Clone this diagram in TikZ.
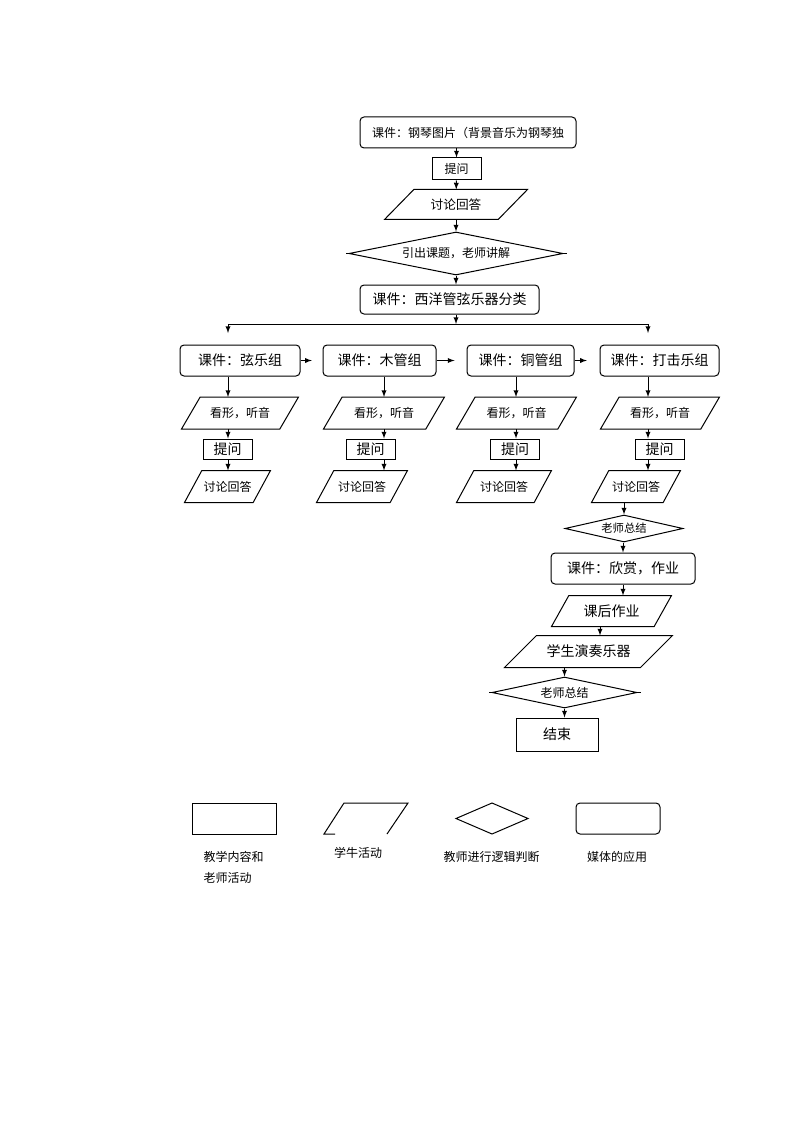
\documentclass[tikz,border=0pt]{standalone}
\usepackage{fontspec}
\setmainfont{Noto Sans CJK SC}
\usetikzlibrary{shapes,arrows,positioning}

\begin{document}
\begin{tikzpicture}[x=0.75pt,y=-0.75pt,>=latex,line width=0.75pt]
            \useasboundingbox (0,0) rectangle (794,1123);
            \tikzstyle{fa}=[font=\fontsize{8.5pt}{10pt}\selectfont]
            \tikzstyle{fb}=[font=\fontsize{9pt}{10pt}\selectfont]
            \tikzstyle{fc}=[font=\fontsize{10.5pt}{12pt}\selectfont]

            \tikzstyle{every edge}=[draw]

            \tikzstyle{T}=[rectangle,draw,inner sep=0pt]      % teaching content
            \tikzstyle{M}=[T,rounded corners=3pt]             % media
            \tikzset{S/.style={rectangle,inner sep=0pt,       % student activity, #1 = slant
                append after command={\pgfextra{\draw (\tikzlastnode.south west)
                  -- ([xshift=#1]\tikzlastnode.north west) -- (\tikzlastnode.north east)
                  -- ([xshift=-#1]\tikzlastnode.south east) -- cycle;}}}}
            \tikzstyle{D}=[diamond,aspect=5,draw,inner sep=0pt]          % teacher judges

            % top chain
            \node[M,fb,minimum width=162pt,minimum height=23.25pt] (0) at (468,132.5) {课件：钢琴图片（背景音乐为钢琴独};
            \node[T,fb,minimum width=36.75pt,minimum height=16.5pt] (1) at (456.5,169) {提问};
            \node[S=22pt,font=\fontsize{9.5pt}{10pt}\selectfont,minimum width=106.5pt,minimum height=21.75pt] (2) at (456,204.5) {讨论回答};
            \node[D,fb,minimum width=160.5pt,minimum height=32.25pt] (3) at (456,253.5) {引出课题，老师讲解};
            \node[M,fc,minimum width=134.25pt,minimum height=21.75pt] (4) at (449.5,299.5) {课件：西洋管弦乐器分类};

            % four groups
            \node[M,fc,minimum width=90pt,minimum height=23.25pt] (5) at (240,360.5) {课件：弦乐组};
            \node[M,fc,minimum width=84.75pt,minimum height=23.25pt] (6) at (379.5,360.5) {课件：木管组};
            \node[M,fc,minimum width=80.25pt,minimum height=23.25pt] (7) at (520.5,360.5) {课件：铜管组};
            \node[M,fc,minimum width=89.25pt,minimum height=23.25pt] (8) at (659.5,360.5) {课件：打击乐组};

            \node[S=14pt,fb,minimum width=87pt,minimum height=23.25pt] (9) at (240,413) {看形，听音};
            \node[S=14pt,fb,minimum width=90pt,minimum height=23.25pt] (10) at (384,413) {看形，听音};
            \node[S=14pt,fb,minimum width=89.25pt,minimum height=23.25pt] (11) at (516.5,413) {看形，听音};
            \node[S=14pt,fb,minimum width=88.5pt,minimum height=23.25pt] (12) at (660,413) {看形，听音};

            \node[T,fc,minimum width=36.75pt,minimum height=15pt] (13) at (227.5,449) {提问};
            \node[T,fc,minimum width=36.75pt,minimum height=15pt] (14) at (370.5,449) {提问};
            \node[T,fc,minimum width=36.75pt,minimum height=15pt] (15) at (515,449) {提问};
            \node[T,fc,minimum width=36.75pt,minimum height=15pt] (16) at (659.5,449) {提问};

            \node[S=13pt,fb,minimum width=63.75pt,minimum height=23.25pt] (17) at (227.5,486.5) {讨论回答};
            \node[S=13pt,fb,minimum width=67.5pt,minimum height=23.25pt] (18) at (362,486.5) {讨论回答};
            \node[S=13pt,fb,minimum width=70.5pt,minimum height=23.25pt] (19) at (504,486.5) {讨论回答};
            \node[S=13pt,fb,minimum width=66pt,minimum height=23.25pt] (20) at (636,486.5) {讨论回答};

            % ending
            \node[D,fa,minimum width=88.5pt,minimum height=20.25pt] (21) at (624,528.5) {老师总结};
            \node[M,fc,minimum width=108pt,minimum height=23.25pt] (22) at (623,568.5) {课件：欣赏，作业};
            \node[S=13pt,fc,minimum width=89.25pt,minimum height=22.5pt] (23) at (611.5,611) {课后作业};
            \node[S=24pt,fc,minimum width=125.25pt,minimum height=23.25pt] (24) at (588.5,651.5) {学生演奏乐器};
            \node[D,fb,minimum width=108.75pt,minimum height=23.25pt] (25) at (564.5,692.5) {老师总结};
            \node[T,fc,minimum width=61.5pt,minimum height=24.75pt] (26) at (557,734.5) {结束};

            \coordinate (c1) at (228,0);
            \coordinate (c2) at (384,0);
            \coordinate (c3) at (516,0);
            \coordinate (c4) at (648,0);
            \coordinate (c5) at (600,0);
            \coordinate (t) at (456,324);
            \coordinate (tl) at (228,324);
            \coordinate (tr) at (648,324);
            \coordinate (bl) at (228,333);
            \coordinate (br) at (648,333);

            \path[->] (0.south -| 1) edge (1);
            \path[->] (1) edge (2);
            \path[->] (2) edge (3);
            \path[->] (3.south) edge (3.south |- 4.north);
            \path[->] (4.south -| 3) edge (t);
            \draw (tl) -- (tr);
            \path[->] (tl) edge (bl);
            \path[->] (tr) edge (br);
            \draw (3.west) -- ++(-3,0) (3.east) -- ++(3,0);

            \path[->,shorten >=8pt] (5) edge (6);
            \path[->,shorten >=9pt] (6) edge (7);
            \path[->,shorten >=9.5pt] (7) edge (8);

            \foreach \a/\b/\c/\d/\x in {5/9/13/17/c1,6/10/14/18/c2,7/11/15/19/c3,8/12/16/20/c4}{
              \path[->] (\a.south -| \x) edge (\b.north -| \x);
              \path[->] (\b.south -| \x) edge (\c.north -| \x);
              \path[->] (\c.south -| \x) edge (\d.north -| \x);
            }

            \path[->] (20.south -| 21) edge (21);
            \path[->] (21.south -| 22) edge (22);
            \path[->] (22.south) edge (22.south |- 23.north);
            \path[->] (23.south -| c5) edge (24.north -| c5);
            \path[->] (24.south -| 25) edge (25);
            \draw (25.west) -- ++(-3,0) (25.east) -- ++(3,0);
            \path[->] (25.south) edge (25.south |- 26.north);

            % legend
            \draw (192,803) rectangle (276,834);
            \draw (335,834) -- (324,834) -- (344,803) -- (408,803) -- (387,834);
            \draw (456,818.5) -- (492,803) -- (528,818.5) -- (492,834) -- cycle;
            \draw[rounded corners=3pt] (576,803) rectangle (660,834);
            \node[fb,align=left,anchor=north west,inner sep=0pt,font=\fontsize{9pt}{15.75pt}\selectfont] (l1) at (203,851) {教学内容和\\老师活动};
            \node[fb] (l2) at (358,853) {学牛活动};
            \node[fb] (l3) at (491.5,857) {教师进行逻辑判断};
            \node[fb] (l4) at (617,857) {媒体的应用};
        \end{tikzpicture}
\end{document}
